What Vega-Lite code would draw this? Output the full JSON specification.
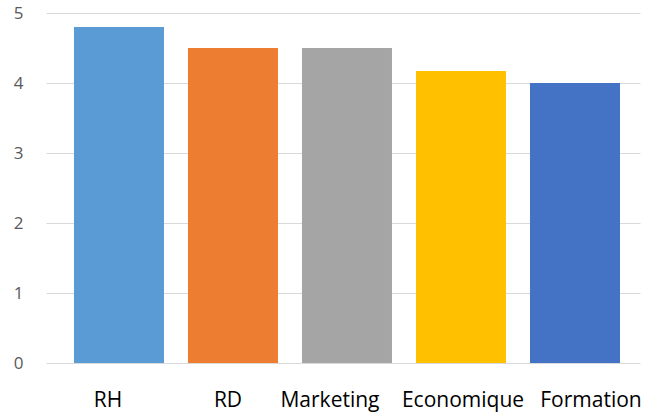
{
  "$schema": "https://vega.github.io/schema/vega-lite/v6.json",
  "width": 594,
  "height": 350,
  "autosize": "none",
  "padding": {"left": 46, "top": 13, "right": 8, "bottom": 49},
  "background": "white",
  "data": {"values": [
    {"categorie": "RH", "valeur": 4.8},
    {"categorie": "RD", "valeur": 4.5},
    {"categorie": "Marketing", "valeur": 4.5},
    {"categorie": "Economique", "valeur": 4.17},
    {"categorie": "Formation", "valeur": 4.0}
  ]},
  "mark": {"type": "bar"},
  "encoding": {
    "x": {
      "field": "categorie", "type": "nominal", "sort": null,
      "scale": {"paddingInner": 0.2105, "paddingOuter": 0.2105, "align": 0.583},
      "axis": {"title": null, "labelAngle": 0, "domain": false, "ticks": false, "tickSize": 0,
        "labelFont": "Open Sans", "labelFontSize": 21, "labelColor": "#000000",
        "labelBaseline": "alphabetic", "labelPadding": 43, "grid": false,
        "labelOffset": {"condition": [
          {"test": "datum.value === 'RH'", "value": -11},
          {"test": "datum.value === 'RD'", "value": -5},
          {"test": "datum.value === 'Marketing'", "value": -17},
          {"test": "datum.value === 'Economique'", "value": 2},
          {"test": "datum.value === 'Formation'", "value": 16}
        ], "value": 0}}
    },
    "y": {
      "field": "valeur", "type": "quantitative",
      "scale": {"domain": [0, 5], "nice": false},
      "axis": {"title": null, "values": [0, 1, 2, 3, 4, 5], "domain": false, "ticks": false, "tickSize": 0,
        "labelFont": "Open Sans", "labelFontSize": 17, "labelColor": "#595959",
        "labelPadding": 23, "gridColor": "#d9d9d9", "gridWidth": 1}
    },
    "color": {
      "field": "categorie", "type": "nominal", "legend": null,
      "scale": {"domain": ["RH", "RD", "Marketing", "Economique", "Formation"],
        "range": ["#5B9BD5", "#ED7D31", "#A5A5A5", "#FFC000", "#4472C4"]}
    }
  },
  "config": {"view": {"stroke": null}}
}
